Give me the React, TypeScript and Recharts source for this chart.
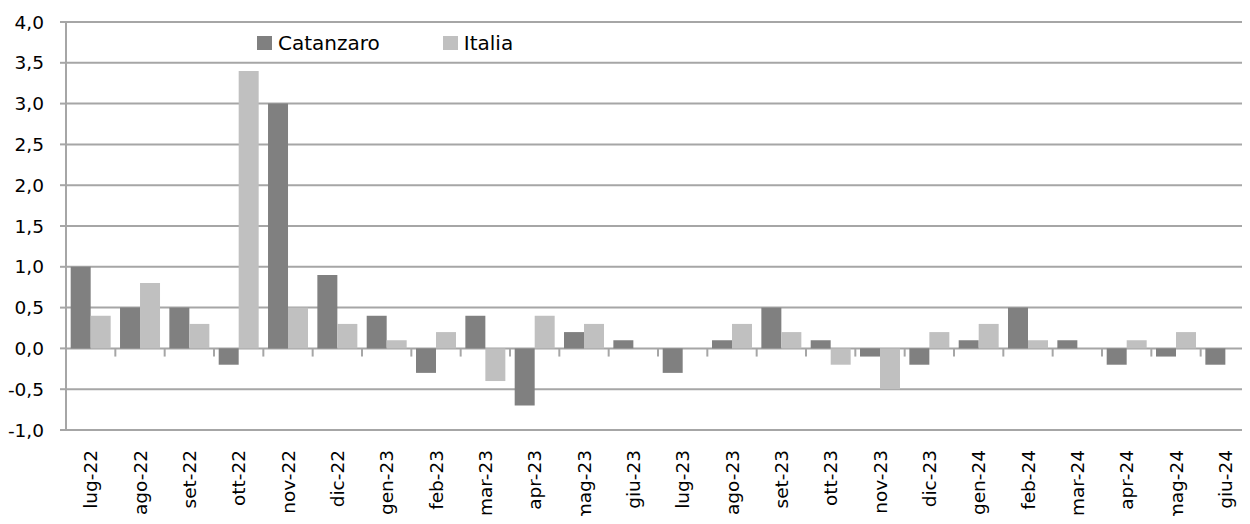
import { Bar, BarChart, CartesianGrid, Legend, ReferenceLine, XAxis, YAxis } from 'recharts';

const months = [
  'lug-22', 'ago-22', 'set-22', 'ott-22', 'nov-22', 'dic-22',
  'gen-23', 'feb-23', 'mar-23', 'apr-23', 'mag-23', 'giu-23',
  'lug-23', 'ago-23', 'set-23', 'ott-23', 'nov-23', 'dic-23',
  'gen-24', 'feb-24', 'mar-24', 'apr-24', 'mag-24', 'giu-24',
];

const catanzaro = [
  1.0, 0.5, 0.5, -0.2, 3.0, 0.9,
  0.4, -0.3, 0.4, -0.7, 0.2, 0.1,
  -0.3, 0.1, 0.5, 0.1, -0.1, -0.2,
  0.1, 0.5, 0.1, -0.2, -0.1, -0.2,
];

const italia = [
  0.4, 0.8, 0.3, 3.4, 0.5, 0.3,
  0.1, 0.2, -0.4, 0.4, 0.3, 0.0,
  0.0, 0.3, 0.2, -0.2, -0.5, 0.2,
  0.3, 0.1, 0.0, 0.1, 0.2, 0.0,
];

const yTicks = [-1, -0.5, 0, 0.5, 1, 1.5, 2, 2.5, 3, 3.5, 4];

const data = months.map((m, i) => ({ month: m, Catanzaro: catanzaro[i], Italia: italia[i] }));

const FONT = '"DejaVu Sans", sans-serif';
const GRID = '#a6a6a6';
const DARK = '#808080';
const LIGHT = '#c0c0c0';

function MonthTick({ x, y, payload }: any) {
  return (
    <text
      x={x}
      y={y}
      transform={`rotate(-90, ${x}, ${y})`}
      textAnchor="end"
      dominantBaseline="central"
      fontFamily={FONT}
      fontSize={18.5}
      fill="#000"
    >
      {payload.value}
    </text>
  );
}

function LegendContent() {
  const items = [
    { name: 'Catanzaro', color: DARK, gap: 63 },
    { name: 'Italia', color: LIGHT, gap: 0 },
  ];
  return (
    <div style={{ display: 'flex', alignItems: 'center', fontFamily: FONT, fontSize: 20, color: '#000', lineHeight: '24px' }}>
      {items.map((it) => (
        <div key={it.name} style={{ display: 'flex', alignItems: 'center', marginRight: it.gap }}>
          <span style={{ width: 15, height: 14, background: it.color, marginRight: 6, display: 'inline-block' }} />
          <span>{it.name}</span>
        </div>
      ))}
    </div>
  );
}

export default function App() {
  return (
    <div style={{ margin: -8, width: 1250, height: 524, background: '#fff' }}>
      <BarChart
        width={1250}
        height={524}
        data={data}
        margin={{ top: 22, right: 0, left: 0, bottom: 0 }}
        barCategoryGap="9.5%"
        barGap={0}
      >
        <CartesianGrid vertical={false} stroke={GRID} strokeWidth={2} />
        <XAxis
          dataKey="month"
          axisLine={false}
          tickLine={false}
          interval={0}
          height={94}
          tick={<MonthTick />}
          tickMargin={14}
        />
        <YAxis
          domain={[-1, 4]}
          ticks={yTicks}
          width={66}
          axisLine={{ stroke: GRID, strokeWidth: 2 }}
          tickLine={{ stroke: GRID, strokeWidth: 2 }}
          tickSize={6}
          tickMargin={16}
          tick={{ fill: '#000', fontSize: 18.5, fontFamily: FONT }}
          tickFormatter={(v: number) => v.toFixed(1).replace('.', ',')}
        />
        <Legend
          layout="horizontal"
          verticalAlign="middle"
          align="center"
          content={<LegendContent />}
          wrapperStyle={{ top: 31, left: 257, width: 320 }}
        />
        <Bar dataKey="Catanzaro" fill={DARK} isAnimationActive={false} />
        <Bar dataKey="Italia" fill={LIGHT} isAnimationActive={false} />
        {months.slice(1).map((m) => (
          <ReferenceLine
            key={m}
            segment={[{ x: m, y: 0 }, { x: m, y: -0.1 }]}
            position="start"
            stroke={GRID}
            strokeWidth={2}
          />
        ))}
      </BarChart>
    </div>
  );
}
